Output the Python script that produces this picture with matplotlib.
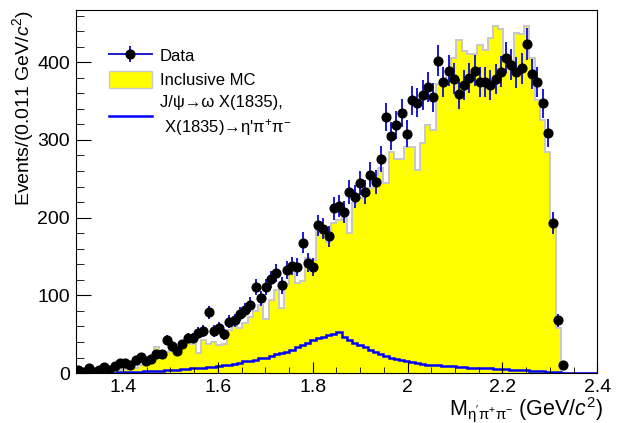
import numpy as np
import matplotlib
matplotlib.use("Agg")
import matplotlib.pyplot as plt
from matplotlib.lines import Line2D
from matplotlib.patches import Patch
from matplotlib.ticker import MultipleLocator
from matplotlib.legend_handler import HandlerTuple

plt.rcParams['font.family'] = ['Liberation Sans', 'DejaVu Sans']
plt.rcParams['mathtext.fontset'] = 'custom'
plt.rcParams['mathtext.rm'] = 'Liberation Sans'
plt.rcParams['mathtext.it'] = 'Liberation Sans:italic'

# 100 bins of 0.011 GeV/c^2 from 1.3 to 2.4
x_lo, x_hi, n_bins = 1.3, 2.4, 100

data_counts = [4, 2, 6, 2, 4, 8, 4, 9, 13, 13,
               10, 17, 21, 15, 18, 25, 24, 42, 35, 28,
               37, 45, 45, 52, 54, 78, 54, 58, 50, 66,
               68, 76, 81, 88, 111, 96, 111, 121, 129, 113,
               133, 138, 136, 168, 142, 136, 190, 186, 176, 212,
               215, 207, 233, 227, 245, 233, 255, 246, 275, 330,
               305, 319, 335, 308, 351, 348, 358, 368, 355, 402,
               374, 389, 379, 359, 371, 380, 389, 374, 374, 371,
               378, 388, 406, 397, 387, 392, 424, 385, 375, 347,
               309, 193, 68, 10]

incl_mc = [0, 0, 1, 1, 1, 2, 2, 4, 4, 5,
           5, 6, 10, 10, 17, 34, 27, 27, 29, 31,
           34, 42, 38, 26, 42, 38, 40, 36, 38, 55,
           64, 58, 64, 72, 80, 88, 70, 94, 107, 84,
           114, 140, 116, 118, 148, 146, 188, 187, 169, 193,
           197, 200, 180, 219, 225, 235, 238, 255, 264, 244,
           285, 276, 276, 291, 291, 261, 296, 319, 313, 372,
           375, 388, 405, 429, 415, 411, 411, 422, 416, 431,
           446, 443, 403, 403, 438, 436, 446, 405, 351, 326,
           285, 195, 58, 0, 0, 0, 0, 0, 0, 0]

signal_mc = [0, 0, 0, 0.3, 0.4, 0.5, 0.6, 0.7, 0.8, 0.9,
             1, 1.5, 2, 2.3, 2.6, 3, 3.3, 3.6, 4, 4.5,
             5, 5.5, 6, 6.5, 7, 7.5, 8, 9, 10, 11,
             12, 13, 15, 16, 17, 19, 20, 22, 24, 26,
             27, 30, 33, 36, 39, 42, 45, 47, 49, 50,
             53, 46, 43, 39, 36, 33, 30, 27, 25, 22,
             20, 18, 17, 15, 14, 13, 12, 11, 10.5, 10,
             9.5, 9, 8.5, 8, 7.5, 7, 7, 6.5, 6, 6,
             5.5, 5, 5, 4.5, 4, 4, 3.5, 3, 3, 2.5,
             2, 1.5, 1, 0, 0, 0, 0, 0, 0, 0]

edges = np.linspace(x_lo, x_hi, n_bins + 1)
centers = 0.5 * (edges[:-1] + edges[1:])
data = np.array(data_counts, dtype=float)
xd = centers[:len(data)]

fig = plt.figure(figsize=(6.19, 4.23), dpi=100)
ax = fig.add_axes([0.122, 0.118, 0.843, 0.858])

ax.stairs(incl_mc, edges, fill=True, color='#ffff00', lw=0)
ax.stairs(incl_mc, edges, color='#c8c8c8', lw=1.4)
ax.stairs(signal_mc, edges, color='#0000ff', lw=1.8)
eb = ax.errorbar(xd, data, yerr=np.sqrt(data), fmt='o', color='black', ms=6.3,
                 ecolor='#1a1ad0', elinewidth=1.4, capsize=0)

ax.set_xlim(x_lo, x_hi)
ax.set_ylim(0, 467)
ax.xaxis.set_major_locator(MultipleLocator(0.2))
ax.xaxis.set_minor_locator(MultipleLocator(0.05))
ax.yaxis.set_major_locator(MultipleLocator(100))
ax.yaxis.set_minor_locator(MultipleLocator(20))
ax.tick_params(axis='both', which='both', direction='in', labelsize=14)
ax.tick_params(axis='x', which='major', length=8, pad=4)
ax.tick_params(axis='x', which='minor', length=4)
ax.tick_params(axis='y', which='major', length=11, pad=4)
ax.tick_params(axis='y', which='minor', length=6)
ax.set_xticks([1.4, 1.6, 1.8, 2.0, 2.2, 2.4])
ax.set_xticklabels(['1.4', '1.6', '1.8', '2', '2.2', '2.4'])

ax.set_ylabel("Events/(0.011 GeV/$c^{2}$)", fontsize=14, loc='top')
ax.yaxis.set_label_coords(-0.075, 1.0)
ax.set_xlabel("M$_{\\mathregular{η'π^{+}π^{-}}}$ (GeV/$c^{2}$)", fontsize=15.5,
              loc='right')
ax.xaxis.set_label_coords(1.012, -0.061)

h_data = (Line2D([], [], color='#1a1ad0', lw=1.4), eb)
h_mc = Patch(facecolor='#ffff00', edgecolor='#c8c8c8')
h_sig = Line2D([], [], color='#0000ff', lw=1.8)
leg = ax.legend([h_data, h_mc, h_sig],
                ['Data', 'Inclusive MC', "J/ψ→ω X(1835),\n X(1835)→η'π$^{+}$π$^{-}$"],
                handler_map={tuple: HandlerTuple(ndivide=1)},
                loc='upper left', bbox_to_anchor=(0.035, 0.94), frameon=False,
                fontsize=12, handlelength=2.6, handleheight=1.2, labelspacing=0.42,
                handletextpad=0.45)
for t in leg.get_texts():
    t.set_linespacing(1.45)

fig.savefig('out.png', dpi=100)
